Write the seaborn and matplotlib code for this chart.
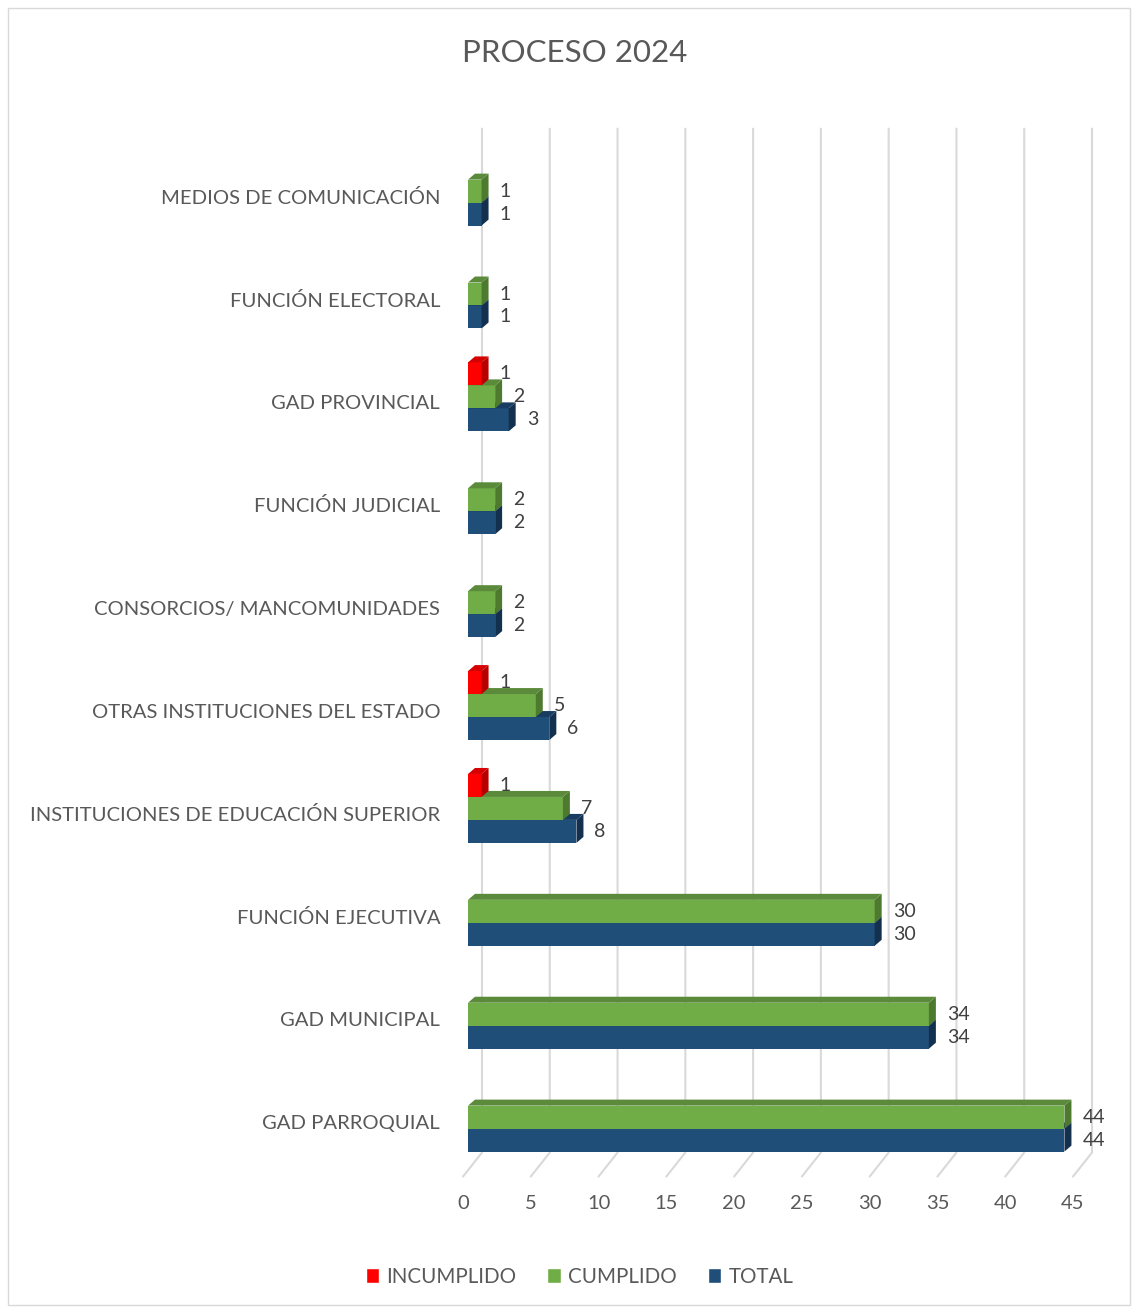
import numpy as np
import pandas as pd
import matplotlib.pyplot as plt
import seaborn as sns
from matplotlib.patches import Polygon, Rectangle, Patch
from matplotlib.lines import Line2D
from matplotlib.transforms import ScaledTranslation, IdentityTransform

categorias = ["MEDIOS DE COMUNICACIÓN", "FUNCIÓN ELECTORAL", "GAD PROVINCIAL",
              "FUNCIÓN JUDICIAL", "CONSORCIOS/ MANCOMUNIDADES",
              "OTRAS INSTITUCIONES DEL ESTADO", "INSTITUCIONES DE EDUCACIÓN SUPERIOR",
              "FUNCIÓN EJECUTIVA", "GAD MUNICIPAL", "GAD PARROQUIAL"]
incumplido = [0, 0, 1, 0, 0, 1, 1, 0, 0, 0]
cumplido = [1, 1, 2, 2, 2, 5, 7, 30, 34, 44]
total = [1, 1, 3, 2, 2, 6, 8, 30, 34, 44]
series = ["INCUMPLIDO", "CUMPLIDO", "TOTAL"]
ticks = list(range(0, 50, 5))

colores = {"INCUMPLIDO": "#FF0000", "CUMPLIDO": "#70AD47", "TOTAL": "#1F4E79"}
lado = {"INCUMPLIDO": "#B80000", "CUMPLIDO": "#4E7A30", "TOTAL": "#14304F"}
tapa = {"INCUMPLIDO": "#D60000", "CUMPLIDO": "#5A8A3A", "TOTAL": "#193D60"}

df = pd.DataFrame({
    "categoria": categorias * 3,
    "serie": np.repeat(series, len(categorias)),
    "valor": incumplido + cumplido + total,
})

sns.set_style("white")
plt.rcParams['font.family'] = ['Lato', 'DejaVu Sans']
gris = "#595959"

W, H = 1134, 1309
fig = plt.figure(figsize=(W / 100, H / 100), dpi=100)
ax = fig.add_axes([468 / W, 0.1073, 610 / W, 0.786])

sns.barplot(data=df, x="valor", y="categoria", hue="serie", hue_order=series,
            order=categorias, palette=colores, orient="h", width=0.67,
            saturation=1, linewidth=0, legend=False, ax=ax)
ax.set_xlim(0, 45)
ax.set_ylim(len(categorias) - 0.5, -0.5)
ax.set_xlabel("")
ax.set_ylabel("")
for s in ax.spines.values():
    s.set_visible(False)
ax.grid(False)

# 3D look: side and top faces
T = ax.transData
dx, dy = 7, 6
n = len(categorias)
for i, p in enumerate(ax.patches):
    w = p.get_width()
    if w <= 0:
        continue
    serie = series[i // n]
    x0, y0, h = p.get_x(), p.get_y(), p.get_height()
    (xl, ya), (xr, yb) = T.transform([(x0, y0), (x0 + w, y0 + h)])
    yt, ybot = max(ya, yb), min(ya, yb)
    z = 2 + yt / 10000
    p.set_zorder(z)
    side = Polygon([(xr, ybot), (xr + dx, ybot + dy), (xr + dx, yt + dy), (xr, yt)],
                   closed=True, facecolor=lado[serie], lw=0,
                   transform=IdentityTransform(), clip_on=False, zorder=z)
    top = Polygon([(xl, yt), (xr, yt), (xr + dx, yt + dy), (xl + dx, yt + dy)],
                  closed=True, facecolor=tapa[serie], lw=0,
                  transform=IdentityTransform(), clip_on=False, zorder=z)
    ax.add_patch(side)
    ax.add_patch(top)
    ax.annotate(str(int(w)), xy=(x0 + w, y0 + h / 2), xytext=(18, 0),
                textcoords="offset pixels", ha="left", va="center",
                fontsize=14, color="#404040", zorder=10)

# back-wall gridlines with floor
ax_top = T.transform((0, -0.5))[1]
ax_bot = T.transform((0, n - 0.5))[1]
for t in ticks:
    xp = T.transform((t, 0))[0]
    ln = Line2D([xp + 14, xp + 14, xp - 5], [ax_top + 11, ax_bot + 16, ax_bot - 8],
                color="#D9D9D9", lw=1.5, transform=IdentityTransform(),
                clip_on=False, zorder=0.5)
    ax.add_line(ln)

ax.set_xticks(ticks)
ax.tick_params(axis="x", length=0, pad=19, labelsize=14.5, labelcolor=gris)
ax.tick_params(axis="y", length=0, pad=20, labelsize=14.6, labelcolor=gris)
for lab in ax.get_xticklabels():
    lab.set_transform(lab.get_transform() + ScaledTranslation(-5 / 100, 0, fig.dpi_scale_trans))
for lab in ax.get_yticklabels():
    lab.set_transform(lab.get_transform() + ScaledTranslation(0, -5 / 100, fig.dpi_scale_trans))

fig.text(0.507, 1 - 53 / H, "PROCESO 2024", ha="center", va="center",
         fontsize=22.5, color=gris)

handles = [Patch(facecolor=colores[s]) for s in series]
fig.legend(handles, series, loc="center", bbox_to_anchor=(0.511, 1 - 1277 / H),
           ncol=3, frameon=False, fontsize=14.8, handlelength=0.66, handleheight=0.72,
           handletextpad=0.35, columnspacing=1.5, labelcolor=gris)

fig.add_artist(Rectangle((8 / W, 4 / H), 1122 / W, 1297 / H, transform=fig.transFigure,
                         fill=False, edgecolor="#D9D9D9", lw=1))

fig.savefig("out.png", dpi=100)
